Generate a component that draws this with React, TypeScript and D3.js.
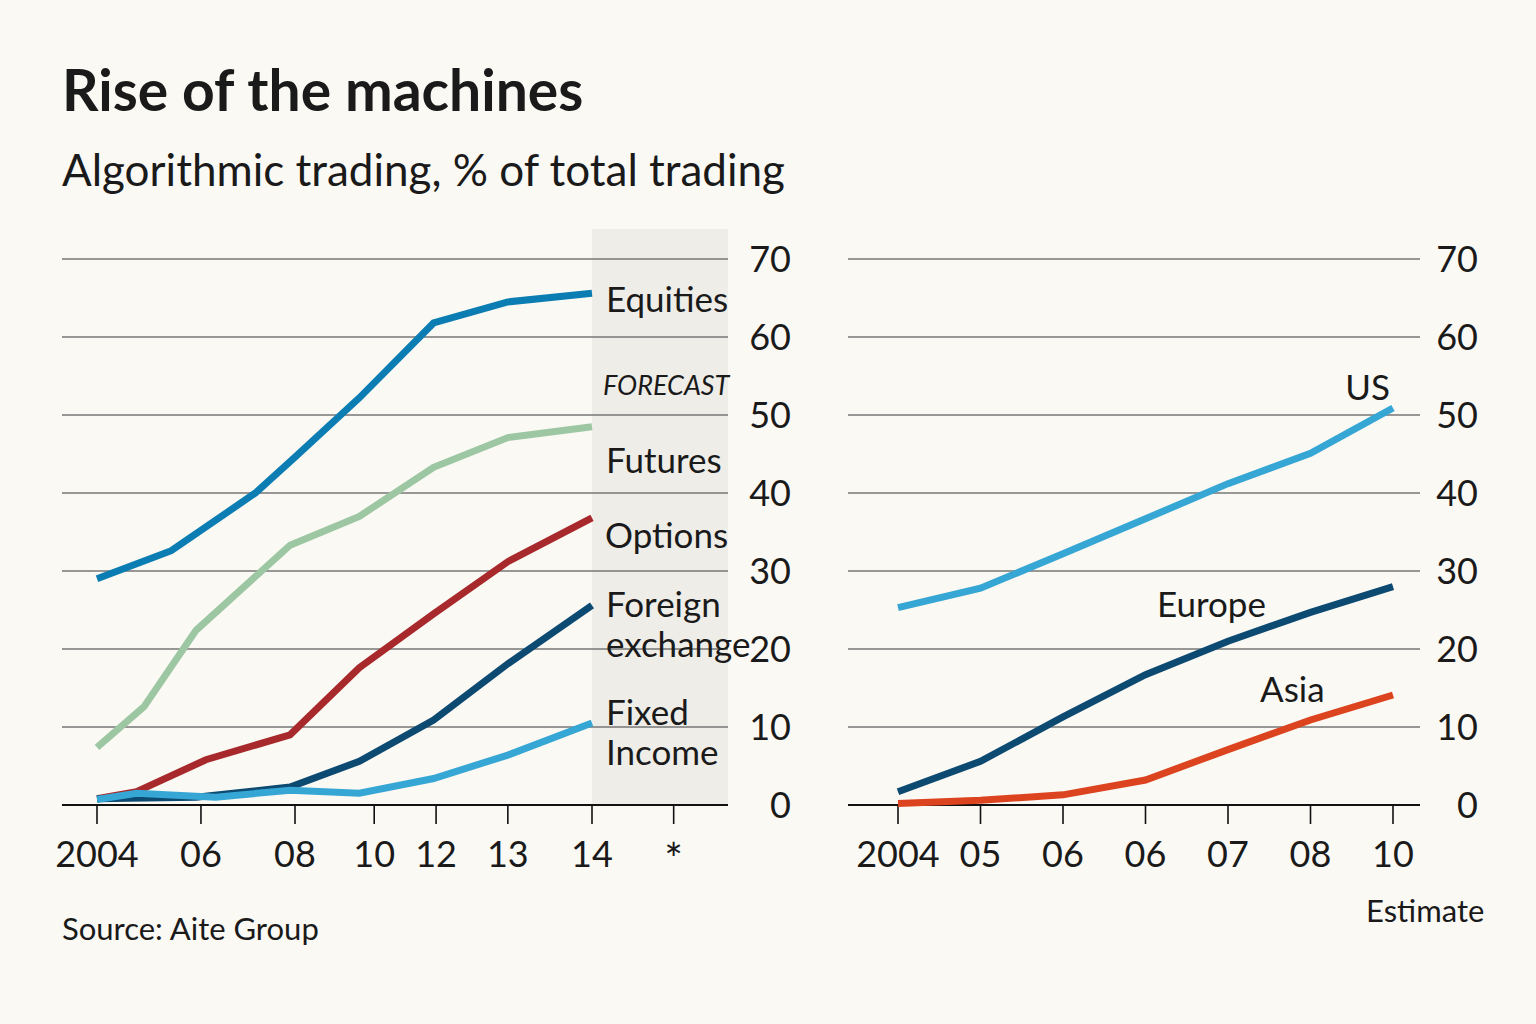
import React, { useEffect, useRef } from 'react';
import * as d3 from 'd3';

// left panel: asset classes, points as [year, % of trading]
const assetTickLabels = ['2004', '06', '08', '10', '12', '13', '14', '*'];
const assetTickYears = [2004, 2006.1, 2008, 2009.6, 2010.85, 2012.3, 2014, 2015.65];

const equities = [[2004, 29.0], [2005.5, 32.6], [2007.2, 40.0], [2008, 44.6], [2009.3, 52.2], [2010.8, 61.8], [2012.3, 64.5], [2014, 65.6]];
const futures = [[2004, 7.4], [2004.95, 12.6], [2006, 22.4], [2007.9, 33.3], [2009.3, 37.0], [2010.8, 43.3], [2012.3, 47.1], [2014, 48.5]];
const options = [[2004, 0.8], [2004.8, 1.7], [2006.2, 5.8], [2007.9, 9.0], [2009.3, 17.6], [2010.8, 24.5], [2012.3, 31.2], [2014, 36.8]];
const foreignExchange = [[2004, 0.8], [2006, 1.0], [2007.9, 2.3], [2009.3, 5.6], [2010.8, 10.9], [2012.3, 18.1], [2014, 25.6]];
const fixedIncome = [[2004, 0.7], [2004.8, 1.5], [2006.4, 1.0], [2007.9, 1.9], [2009.3, 1.5], [2010.8, 3.4], [2012.3, 6.4], [2014, 10.5]];

// right panel: equities by region
const regionTickLabels = ['2004', '05', '06', '06', '07', '08', '10'];
const us = [25.3, 27.8, 32.2, 36.7, 41.2, 45.1, 50.9];
const europe = [1.7, 5.6, 11.3, 16.7, 21.0, 24.7, 28.0];
const asia = [0.2, 0.6, 1.3, 3.2, 7.1, 10.9, 14.1];

const yTicks = [0, 10, 20, 30, 40, 50, 60, 70];

const FONT = 'Lato, "Open Sans", sans-serif';
const BG = '#fbf9f4';
const INK = '#1a1a1a';

export default function App() {
  const ref = useRef(null);

  useEffect(() => {
    document.body.style.margin = '0';
    draw();
    // eslint-disable-next-line react-hooks/exhaustive-deps
  }, []);

  function draw() {
    const svg = d3.select(ref.current);
    svg.selectAll('*').remove();
    svg.append('rect').attr('width', 1536).attr('height', 1024).attr('fill', BG);

    const y = d3.scaleLinear().domain([0, 70]).range([805, 259]);
    const xl = d3.scaleLinear().domain([2004, 2014]).range([97, 592]);
    const xr = d3.scalePoint().domain(d3.range(regionTickLabels.length)).range([898, 1393]);

    // titles
    svg.append('text').attr('x', 62).attr('y', 111).text('Rise of the machines')
      .attr('font-family', FONT).attr('font-weight', 700).attr('font-size', 57).attr('fill', INK);
    svg.append('text').attr('x', 62).attr('y', 186).text('Algorithmic trading, % of total trading')
      .attr('font-family', FONT).attr('font-size', 44).attr('fill', INK);

    // forecast shading
    svg.append('rect')
      .attr('x', xl(2014)).attr('y', 229)
      .attr('width', 728 - xl(2014)).attr('height', y(0) - 229)
      .attr('fill', '#efede8');

    panel(svg, y, 62, 728, 791, assetTickYears.map((d) => xl(d)), assetTickLabels);
    panel(svg, y, 848, 1420, 1478, regionTickLabels.map((d, i) => xr(i)), regionTickLabels);

    const lineL = d3.line().x((d) => xl(d[0])).y((d) => y(d[1]));
    const leftSeries = [
      { data: equities, color: '#0b7db3' },
      { data: futures, color: '#9dc7a2' },
      { data: options, color: '#a8292b' },
      { data: foreignExchange, color: '#0c4a72' },
      { data: fixedIncome, color: '#36a6d4' },
    ];
    leftSeries.forEach((s) => {
      svg.append('path').attr('d', lineL(s.data)).attr('fill', 'none')
        .attr('stroke', s.color).attr('stroke-width', 7);
    });

    const lineR = d3.line().x((d, i) => xr(i)).y((d) => y(d));
    const rightSeries = [
      { data: us, color: '#36a6d4' },
      { data: europe, color: '#0c4a72' },
      { data: asia, color: '#dc4420' },
    ];
    rightSeries.forEach((s) => {
      svg.append('path').attr('d', lineR(s.data)).attr('fill', 'none')
        .attr('stroke', s.color).attr('stroke-width', 7);
    });

    // series labels; multi-line ones go in tspans
    const label = (lines, x, yy, opts = {}) => {
      const t = svg.append('text').attr('x', x).attr('y', yy)
        .attr('font-family', FONT).attr('font-size', opts.size || 35)
        .attr('font-style', opts.italic ? 'italic' : 'normal')
        .attr('text-anchor', opts.anchor || 'start').attr('fill', INK);
      [].concat(lines).forEach((l, i) => {
        t.append('tspan').attr('x', x).attr('dy', i ? 40 : 0).text(l);
      });
    };
    label('Equities', 606, 312);
    label('FORECAST', 603, 395, { size: 27, italic: true });
    label('Futures', 606, 473);
    label('Options', 605, 548);
    label(['Foreign', 'exchange'], 606, 617);
    label(['Fixed', 'Income'], 606, 725);
    label('US', 1390, 400, { anchor: 'end' });
    label('Europe', 1157, 617);
    label('Asia', 1260, 702);
    label('Estimate', 1366, 922, { size: 31 });
    label('Source: Aite Group', 62, 940, { size: 31 });
  }

  function panel(svg, y, x0, x1, labelX, tickXs, tickLabels) {
    const g = svg.append('g');
    g.selectAll('line.grid').data(yTicks.filter((d) => d > 0)).enter().append('line')
      .attr('x1', x0).attr('x2', x1).attr('y1', (d) => y(d)).attr('y2', (d) => y(d))
      .attr('stroke', '#767676').attr('stroke-width', 1.6);
    g.append('line').attr('x1', x0).attr('x2', x1).attr('y1', y(0)).attr('y2', y(0))
      .attr('stroke', '#111').attr('stroke-width', 2.2);
    g.selectAll('text.y').data(yTicks).enter().append('text')
      .attr('x', labelX).attr('y', (d) => y(d) + 13).attr('text-anchor', 'end')
      .attr('font-family', FONT).attr('font-size', 36).attr('fill', INK)
      .text((d) => d);
    g.selectAll('line.tick').data(tickXs).enter().append('line')
      .attr('x1', (d) => d).attr('x2', (d) => d).attr('y1', y(0)).attr('y2', y(0) + 19)
      .attr('stroke', '#111').attr('stroke-width', 1.6);
    g.selectAll('text.x').data(tickLabels).enter().append('text')
      .attr('x', (d, i) => tickXs[i]).attr('y', (d) => y(0) + (d === '*' ? 70 : 62))
      .attr('text-anchor', 'middle')
      .attr('font-family', FONT).attr('font-size', (d) => (d === '*' ? 44 : 36)).attr('fill', INK)
      .text((d) => d);
  }

  return <svg ref={ref} width={1536} height={1024} style={{ display: 'block' }} />;
}
